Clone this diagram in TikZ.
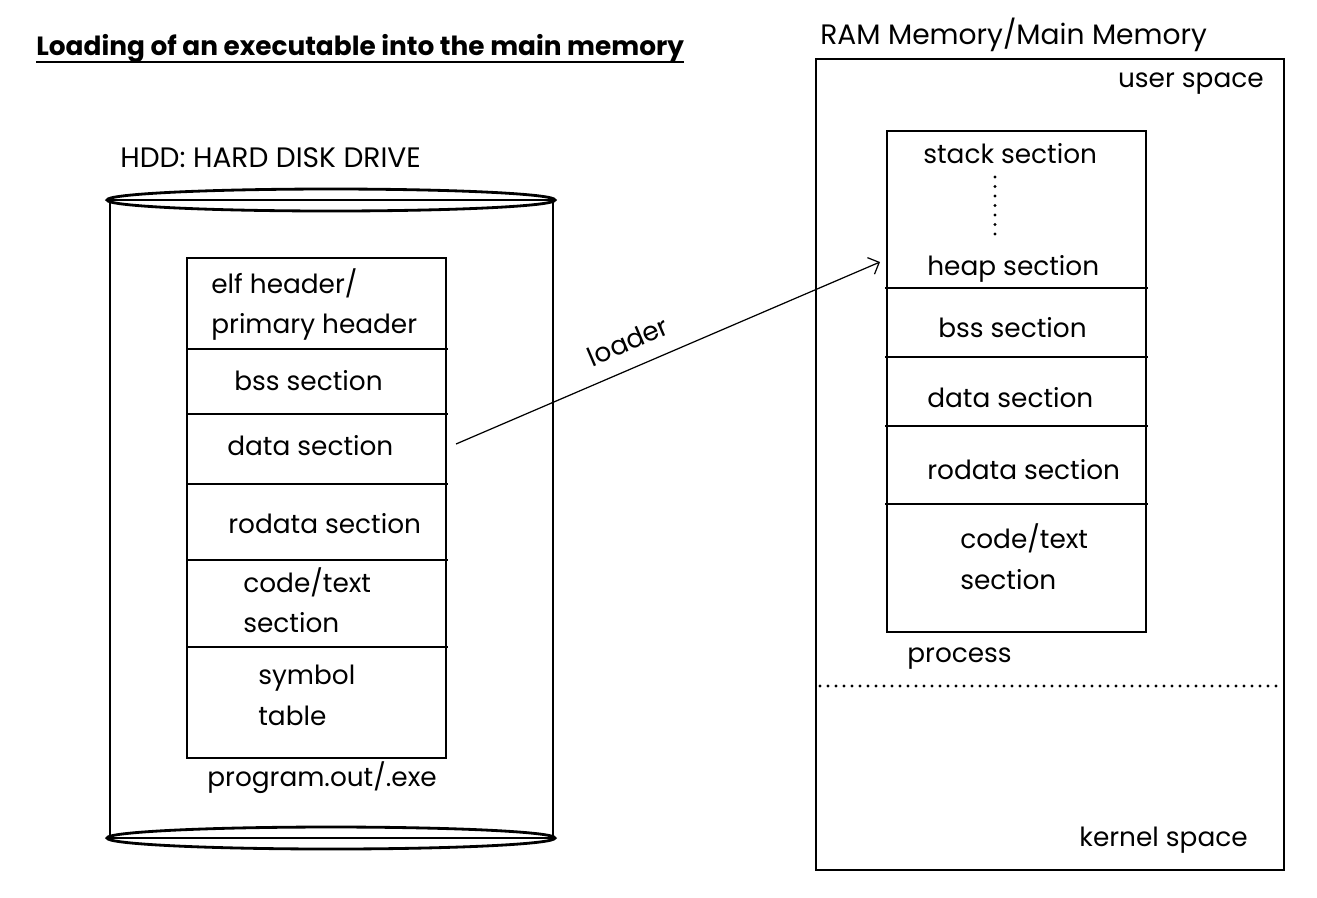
\documentclass[tikz,border=0pt]{standalone}
\usepackage{fontspec}
\setmainfont{Poppins}
\usepackage{tikz}
\usetikzlibrary{arrows.meta}

\tikzset{
  txt/.style={font=\fontsize{15}{18}\selectfont, inner sep=0pt, anchor=base west},
  heavy/.style={line width=1.6pt},
  divider/.style={line width=0.8pt},
  dots/.style={line width=1.8pt, line cap=round, dash pattern=on 0pt off #1},
  dots/.default=0.16cm
}

\begin{document}
\begin{tikzpicture}[x=0.02cm, y=-0.02cm]
    \useasboundingbox (0, 0) rectangle (1317, 897);
    % title
    \node [txt, font=\fontsize{15}{18}\selectfont\bfseries] (title) at (36, 55) {Loading of an executable into the main memory};
    \draw [line width=0.8pt] ([yshift=-4pt]title.base west) -- ([yshift=-4pt]title.base east);
    % HDD
    \node [txt, font=\fontsize{16}{19}\selectfont] (hddlabel) at (120, 167) {HDD: HARD DISK DRIVE};
    \draw [heavy]    (110, 200) -- (110, 838);
    \draw [heavy]    (553, 200) -- (553, 838);
    \draw [heavy]    (331, 200) ellipse (224 and 11);
    \draw [heavy]    (110, 200) -- (553, 200);
    \draw [heavy]    (331, 838) ellipse (224 and 11);
    \draw [heavy]    (110, 838) -- (553, 838);
    % executable
    \draw [heavy]    (187, 258) rectangle (446, 758);
    \foreach \y in {349, 414, 484, 560, 647}
        \draw [divider] (187, \y) -- (448, \y);
    \node [txt] (helf)    at (211, 293) {elf header/};
    \node [txt] (hprim)   at (211, 333) {primary header};
    \node [txt] (hbss)    at (234, 390) {bss section};
    \node [txt] (hdata)   at (227, 455) {data section};
    \node [txt] (hrodata) at (228, 533) {rodata section};
    \node [txt] (hcode)   at (243, 592) {code/text};
    \node [txt] (hcodes)  at (243, 632) {section};
    \node [txt] (hsym)    at (258, 684) {symbol};
    \node [txt] (hsymt)   at (258, 725) {table};
    \node [txt] (hprog)   at (207, 786) {program.out/.exe};
    % loader
    \coordinate (ldfrom) at (456, 444);
    \coordinate (ldto)   at (880, 262);
    \draw [-{Straight Barb[length=1.8mm, width=3.6mm]}, line width=0.7pt] (ldfrom) -- node [sloped, above=0.32cm, pos=0.43, inner sep=0pt, font=\fontsize{15}{18}\selectfont] (ldlabel) {loader} (ldto);
    % RAM
    \node [txt, font=\fontsize{16}{19}\selectfont] (ramlabel) at (820, 44) {RAM Memory/Main Memory};
    \draw [heavy]    (816, 59) rectangle (1284, 870);
    \node [txt, anchor=base east] (user)   at (1264, 87)  {user space};
    \draw [dots]     (820, 686) -- (1282, 686);
    \node [txt, anchor=base east] (kernel) at (1248, 846) {kernel space};
    % process
    \draw [heavy]    (887, 131) rectangle (1146, 632);
    \foreach \y in {288, 357, 426, 504}
        \draw [divider] (885, \y) -- (1148, \y);
    \node [txt] (rstack)  at (923, 163) {stack section};
    \draw [dots=0.19cm]   (995, 177) -- (995, 236);
    \node [txt] (rheap)   at (927, 275) {heap section};
    \node [txt] (rbss)    at (938, 337) {bss section};
    \node [txt] (rdata)   at (927, 407) {data section};
    \node [txt] (rrodata) at (927, 479) {rodata section};
    \node [txt] (rcode)   at (960, 548) {code/text};
    \node [txt] (rcodes)  at (960, 589) {section};
    \node [txt] (rproc)   at (907, 662) {process};
\end{tikzpicture}
\end{document}
